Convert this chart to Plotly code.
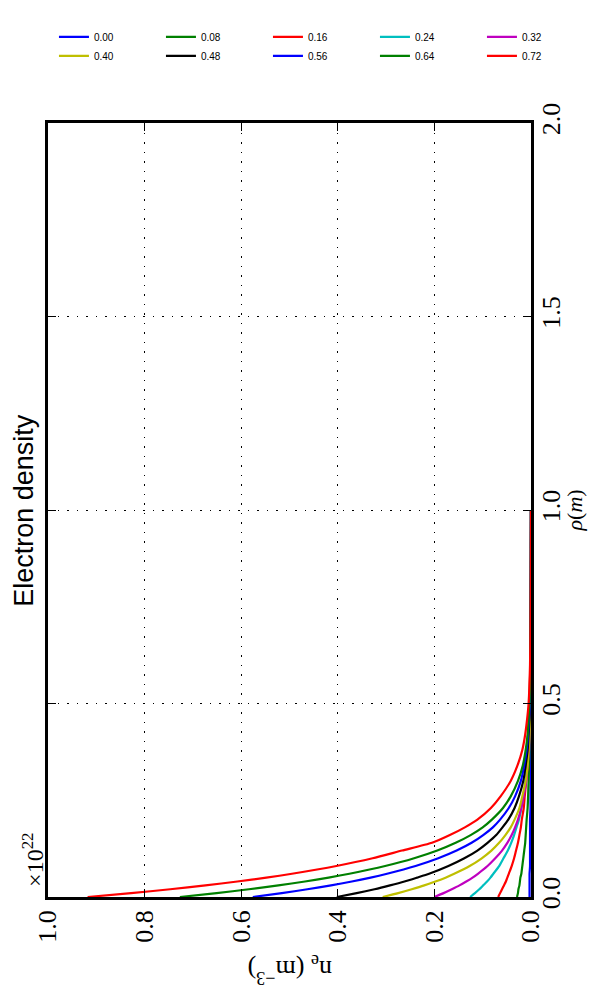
import plotly.graph_objects as go

# radial coordinate rho (m)
rho = [0.0, 0.01, 0.02, 0.03, 0.04, 0.05, 0.06, 0.08, 0.10, 0.12, 0.14, 0.16, 0.18, 0.20,
       0.23, 0.26, 0.30, 0.34, 0.38, 0.42, 0.46, 0.50, 0.60, 0.70, 0.80, 0.90, 1.00]

# time labels for each profile
times = ["0.00", "0.08", "0.16", "0.24", "0.32", "0.40", "0.48", "0.56", "0.64", "0.72"]

# electron density profiles, units of 1e22 m^-3
ne_000 = [0.003, 0.003, 0.003, 0.003, 0.003, 0.003, 0.003, 0.002, 0.002, 0.002, 0.002, 0.002, 0.002, 0.002,
          0.001, 0.001, 0.001, 0.001, 0.001, 0.001, 0.001, 0.0005, 0.0003, 0.0002, 0.0001, 0.0001, 0.0]
ne_008 = [0.029, 0.027, 0.026, 0.024, 0.023, 0.022, 0.020, 0.018, 0.016, 0.014, 0.012, 0.011, 0.010, 0.009,
          0.007, 0.006, 0.005, 0.004, 0.003, 0.002, 0.002, 0.001, 0.0006, 0.0004, 0.0002, 0.0001, 0.0]
ne_016 = [0.068, 0.064, 0.060, 0.056, 0.052, 0.049, 0.046, 0.040, 0.035, 0.031, 0.027, 0.024, 0.021, 0.019,
          0.015, 0.013, 0.010, 0.007, 0.006, 0.004, 0.003, 0.003, 0.0015, 0.0008, 0.0004, 0.0002, 0.0]
ne_024 = [0.126, 0.116, 0.107, 0.099, 0.091, 0.084, 0.078, 0.066, 0.057, 0.048, 0.041, 0.035, 0.030, 0.025,
          0.020, 0.016, 0.011, 0.008, 0.006, 0.004, 0.003, 0.002, 0.001, 0.0005, 0.0003, 0.0001, 0.0]
ne_032 = [0.200, 0.181, 0.164, 0.148, 0.134, 0.121, 0.110, 0.090, 0.074, 0.060, 0.049, 0.040, 0.033, 0.027,
          0.020, 0.015, 0.010, 0.007, 0.004, 0.003, 0.002, 0.001, 0.0006, 0.0003, 0.0002, 0.0001, 0.0]
ne_040 = [0.307, 0.275, 0.247, 0.221, 0.198, 0.177, 0.159, 0.127, 0.102, 0.082, 0.066, 0.053, 0.042, 0.034,
          0.024, 0.018, 0.011, 0.007, 0.005, 0.003, 0.002, 0.001, 0.0006, 0.0003, 0.0002, 0.0001, 0.0]
ne_048 = [0.402, 0.361, 0.324, 0.292, 0.262, 0.236, 0.211, 0.171, 0.138, 0.111, 0.090, 0.072, 0.059, 0.047,
          0.034, 0.025, 0.016, 0.011, 0.007, 0.005, 0.003, 0.002, 0.001, 0.0005, 0.0003, 0.0001, 0.0]
ne_056 = [0.576, 0.516, 0.463, 0.414, 0.371, 0.332, 0.298, 0.239, 0.192, 0.154, 0.123, 0.099, 0.079, 0.064,
          0.046, 0.033, 0.021, 0.014, 0.009, 0.006, 0.004, 0.002, 0.001, 0.0005, 0.0003, 0.0001, 0.0]
ne_064 = [0.727, 0.651, 0.584, 0.523, 0.468, 0.419, 0.376, 0.302, 0.242, 0.194, 0.156, 0.125, 0.100, 0.081,
          0.058, 0.042, 0.027, 0.017, 0.011, 0.007, 0.005, 0.003, 0.0015, 0.0007, 0.0003, 0.0001, 0.0]
ne_072 = [0.918, 0.828, 0.747, 0.674, 0.608, 0.548, 0.495, 0.403, 0.328, 0.267, 0.205, 0.168, 0.137, 0.111,
          0.083, 0.063, 0.042, 0.028, 0.018, 0.012, 0.008, 0.005, 0.002, 0.001, 0.0005, 0.0002, 0.0]

profiles = [ne_000, ne_008, ne_016, ne_024, ne_032, ne_040, ne_048, ne_056, ne_064, ne_072]
colors = ["#0000ff", "#008000", "#ff0000", "#00bfbf", "#bf00bf",
          "#bfbf00", "#000000", "#0000ff", "#008000", "#ff0000"]

serif = "Liberation Serif"
sans = "Liberation Sans"

fig = go.Figure()
for t, ne, c in zip(times, profiles, colors):
    # the matplotlib figure was turned a quarter: rho runs upward, n_e runs leftward
    fig.add_trace(go.Scatter(x=ne, y=rho, mode="lines", name=t,
                             line=dict(color=c, width=2.2, shape="spline", smoothing=0.6)))

axis_common = dict(
    showline=True, linecolor="black", linewidth=2.5, mirror="allticks",
    ticks="inside", ticklen=8, tickwidth=1, tickcolor="black",
    showgrid=True, gridcolor="black", gridwidth=1, griddash="1.5px,8px",
    zeroline=False, tickangle=-90, tickformat=".1f",
    tickfont=dict(family=serif, size=26, color="black"),
)

# page body keeps its default 8px margin, so the figure is 16px smaller than the window
fig.update_layout(
    width=581, height=982,
    paper_bgcolor="white", plot_bgcolor="white",
    margin=dict(l=40, r=58, t=115, b=93, autoexpand=False),
    xaxis=dict(range=[1.0, 0.0], dtick=0.2, ticklabelstandoff=0, **axis_common),
    yaxis=dict(range=[0.0, 2.0], dtick=0.5, side="right", ticklabelstandoff=-5,
               **axis_common),
    legend=dict(orientation="h", x=1.12, y=1.13, xanchor="right", yanchor="top",
                font=dict(family=sans, size=10, color="black"),
                entrywidth=62, entrywidthmode="pixels",
                bgcolor="rgba(0,0,0,0)", itemwidth=30),
    showlegend=True,
    annotations=[
        dict(text="Electron density", textangle=-90, xref="paper", yref="paper",
             x=-0.05, y=0.5, xanchor="center", yanchor="middle", showarrow=False,
             font=dict(family=sans, size=27, color="black")),
        dict(text="×10<sup>22</sup>", textangle=-90, xref="paper", yref="paper",
             x=-0.031, y=0.048, xanchor="center", yanchor="middle", showarrow=False,
             font=dict(family=serif, size=24, color="black")),
        dict(text="n<sub>e</sub> (m<sup>−3</sup>)", textangle=180, xref="paper", yref="paper",
             x=0.5, y=-0.094, xanchor="center", yanchor="middle", showarrow=False,
             font=dict(family=serif, size=26, color="black")),
        dict(text="<i>ρ</i>(<i>m</i>)", textangle=-90, xref="paper", yref="paper",
             x=1.09, y=0.5, xanchor="center", yanchor="middle", showarrow=False,
             font=dict(family=serif, size=22, color="black")),
    ],
)

fig.write_html("out.html")
